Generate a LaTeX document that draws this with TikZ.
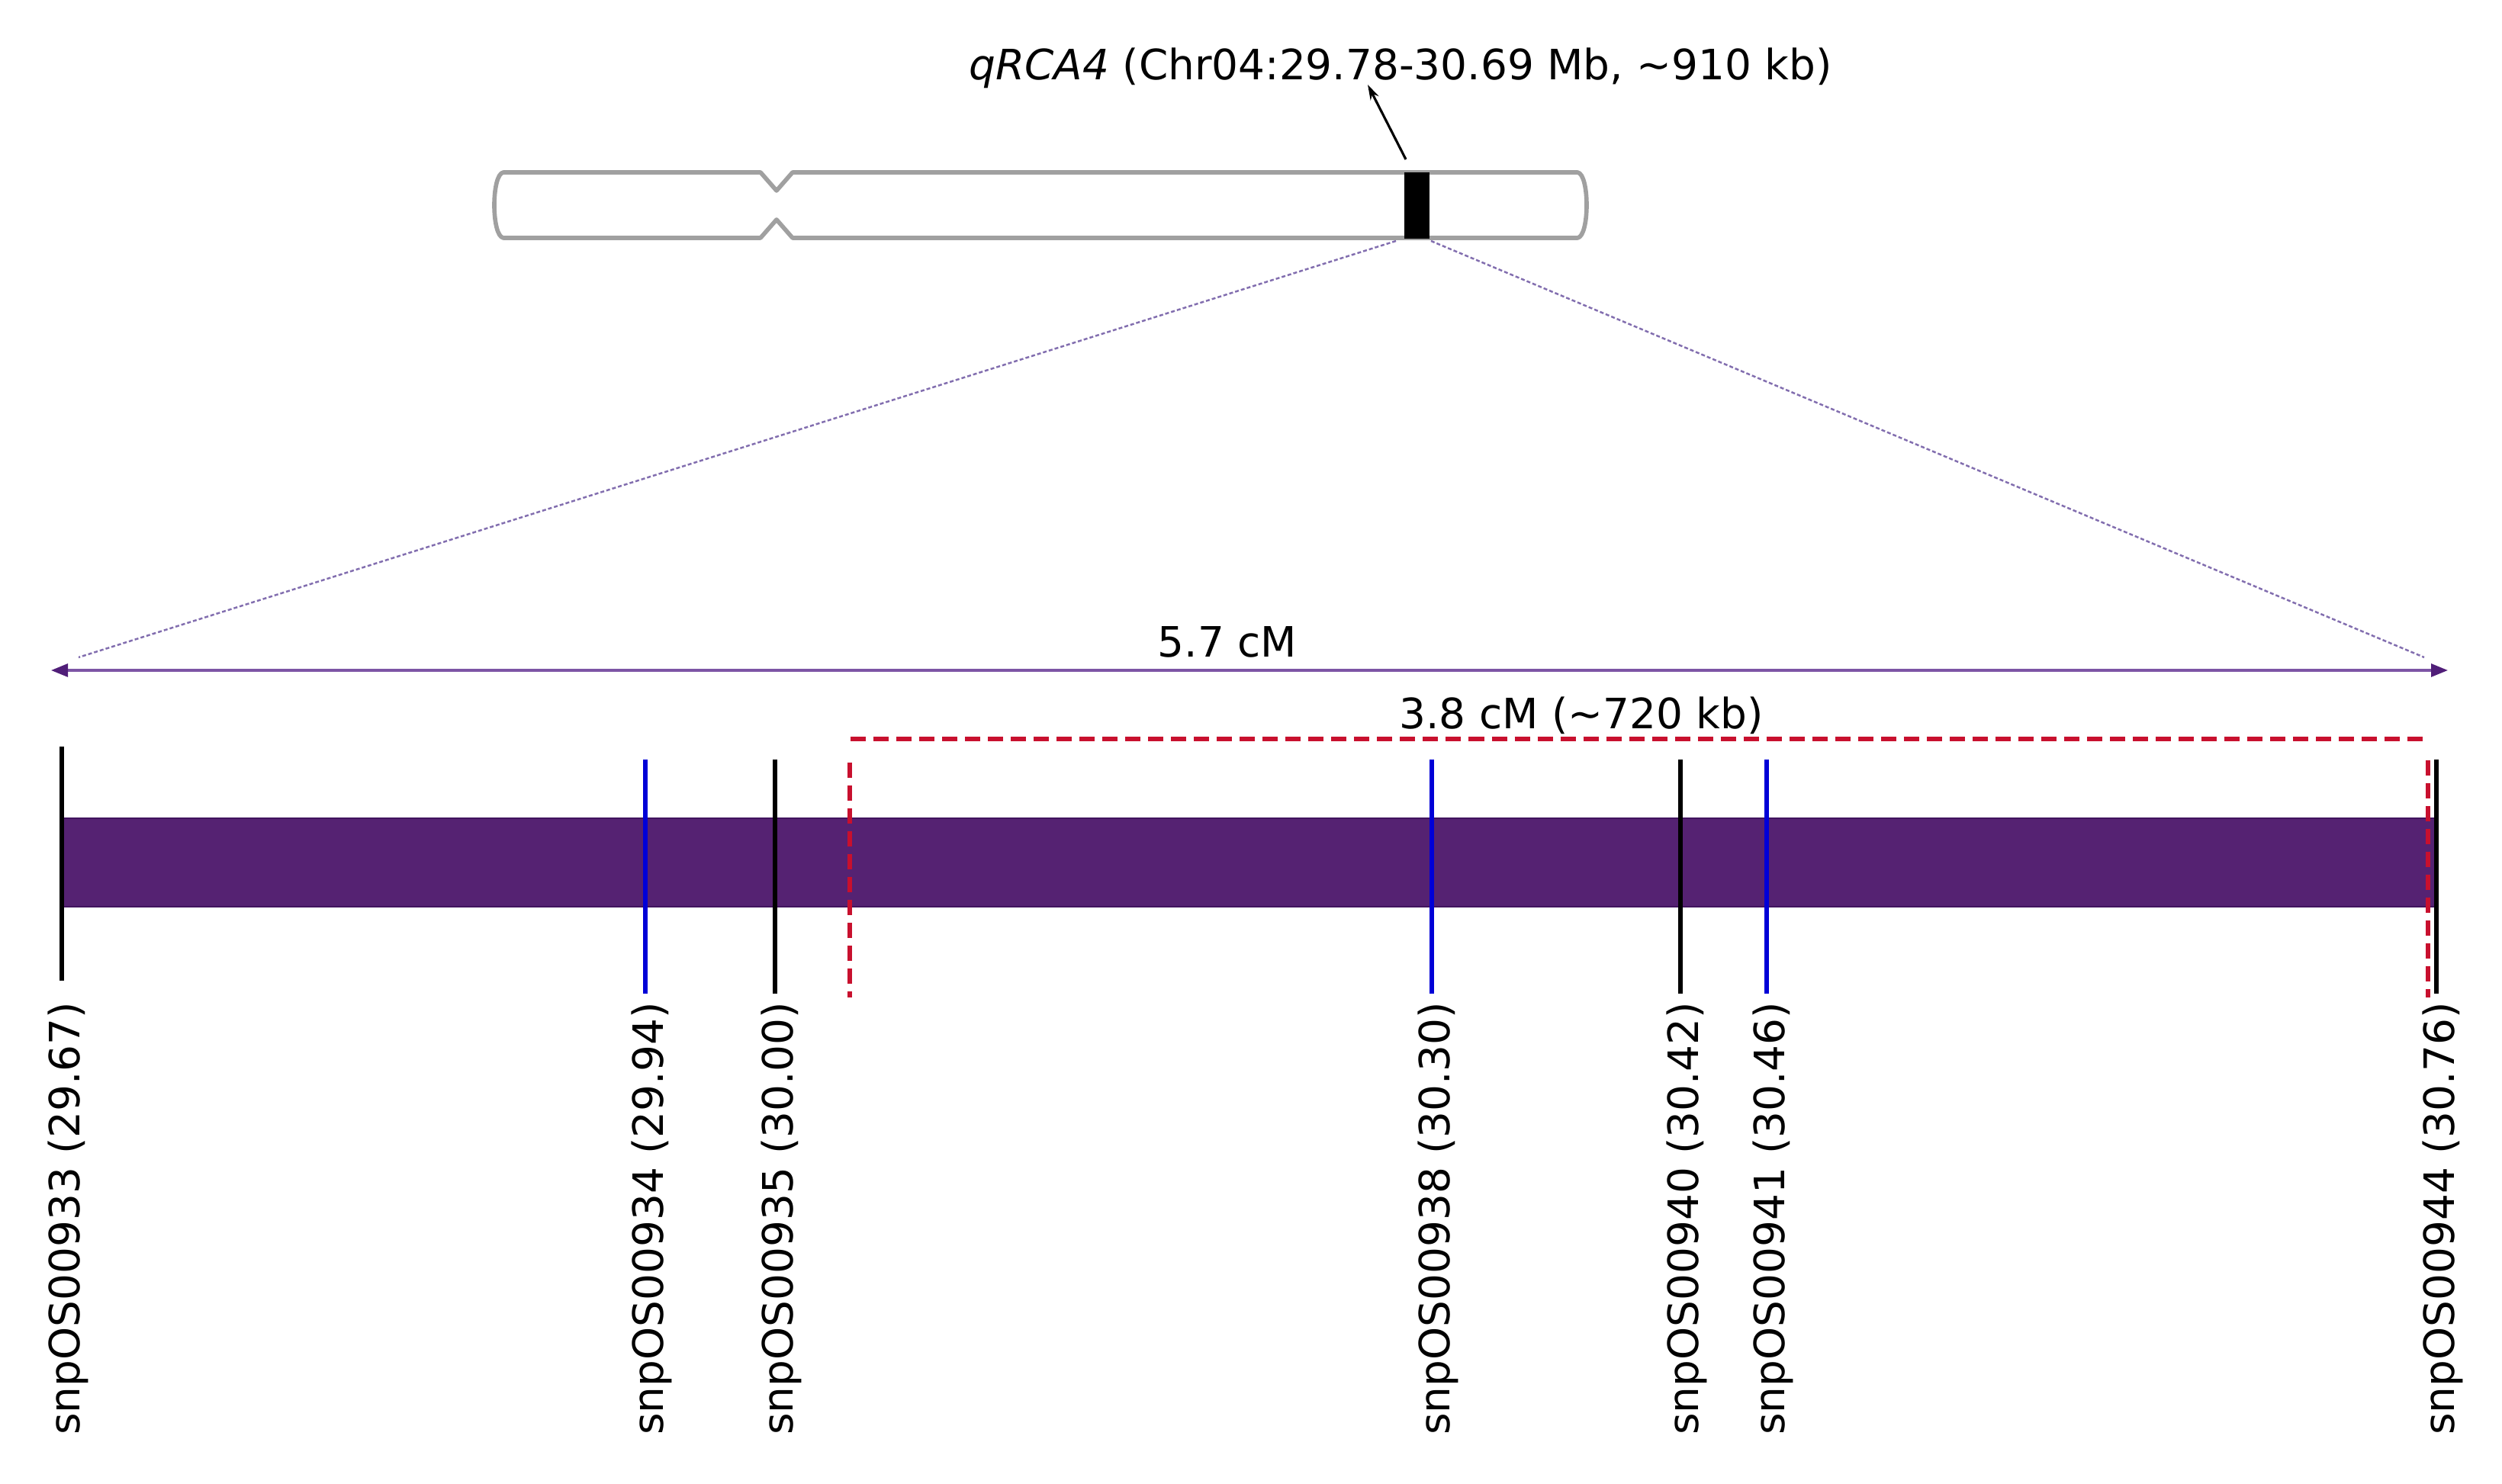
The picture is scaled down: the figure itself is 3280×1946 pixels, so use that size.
\documentclass[tikz,border=0pt]{standalone}
\usepackage{fontspec}
\setmainfont{DejaVu Sans}
\usetikzlibrary{arrows.meta}
\definecolor{chromgray}{RGB}{160,160,160}
\definecolor{barpurple}{RGB}{85,34,114}
\definecolor{baredge}{RGB}{65,20,95}
\definecolor{linepurple}{RGB}{125,85,165}
\definecolor{tippurple}{RGB}{80,30,120}
\definecolor{projpurple}{RGB}{130,110,175}
\definecolor{qtlred}{RGB}{200,16,46}
\definecolor{mblue}{RGB}{0,0,215}
\begin{document}
\begin{tikzpicture}[x=0.01cm,y=-0.01cm,
  every node/.style={font=\fontsize{15.6}{18}\selectfont, inner sep=0pt},
  chrom/.style={draw=chromgray, line width=1.6pt, fill=white, line join=round},
  markblack/.style={draw=black, line width=1.7pt},
  markblue/.style={draw=mblue, line width=1.5pt},
  qtl/.style={draw=qtlred, line width=1.8pt, dash pattern=on 0.2cm off 0.1cm},
  proj/.style={draw=projpurple, line width=0.7pt, dash pattern=on 0.05cm off 0.03cm},
  spanarrow/.style={draw=linepurple, line width=0.9pt,
    {Triangle[length=0.22cm,width=0.17cm,color=tippurple]}-{Triangle[length=0.22cm,width=0.17cm,color=tippurple]}},
  mlabel/.style={rotate=90, anchor=east},
]
\useasboundingbox (0,0) rectangle (3280,1946);

% chromosome
\draw[chrom] (660,226) -- (997,226) -- (1018,250) -- (1039,226) -- (2068,226)
  .. controls (2084,228) and (2084,310) .. (2068,312)
  -- (1039,312) -- (1018,288) -- (997,312) -- (660,312)
  .. controls (644,310) and (644,228) .. (660,226) -- cycle;
\fill[black] (1841,226) rectangle (1874,313);

\coordinate (bandtop) at (1843,209);
\coordinate (bandBL) at (1830,316);
\coordinate (bandBR) at (1876,316);

% title
\node[anchor=base west] (title) at (1270,105) {\textit{qRCA4} (Chr04:29.78-30.69 Mb, \textasciitilde910 kb)};
\coordinate (titlept) at (1793,111);
\draw[line width=0.9pt, -{Stealth[length=0.2cm,width=0.12cm]}] (bandtop) -- (titlept);

% projection lines
\coordinate (projL) at (103,862);
\coordinate (projR) at (3178,862);
\draw[proj] (bandBL) -- (projL);
\draw[proj] (bandBR) -- (projR);

% 5.7 cM span
\coordinate (spanL) at (67,879);
\coordinate (spanR) at (3209,879);
\draw[spanarrow] (spanL) -- (spanR);
\node[anchor=base] (cm57) at (1609,862) {5.7 cM};

% QTL interval
\coordinate (qtlL) at (1115,969);
\coordinate (qtlR) at (3180,969);
\draw[qtl] (qtlL) -- (qtlR);
\node[anchor=base] (cm38) at (2073,956) {3.8 cM (\textasciitilde720 kb)};

% linkage bar
\fill[barpurple, draw=baredge, line width=0.5pt] (80,1073) rectangle (3192,1189);

% QTL verticals
\coordinate (qvLt) at (1114,1000);
\coordinate (qvLb) at (1114,1308);
\coordinate (qvRt) at (3183,997);
\coordinate (qvRb) at (3183,1308);
\draw[qtl] (qvLt) -- (qvLb);
\draw[qtl] (qvRt) -- (qvRb);

% markers
\coordinate (m933t) at (81,979);   \coordinate (m933b) at (81,1286);
\coordinate (m934t) at (846,996);  \coordinate (m934b) at (846,1303);
\coordinate (m935t) at (1016,996); \coordinate (m935b) at (1016,1303);
\coordinate (m938t) at (1877,996); \coordinate (m938b) at (1877,1303);
\coordinate (m940t) at (2203,996); \coordinate (m940b) at (2203,1303);
\coordinate (m941t) at (2316,996); \coordinate (m941b) at (2316,1303);
\coordinate (m944t) at (3194,996); \coordinate (m944b) at (3194,1303);
\draw[markblack] (m933t) -- (m933b);
\draw[markblue]  (m934t) -- (m934b);
\draw[markblack] (m935t) -- (m935b);
\draw[markblue]  (m938t) -- (m938b);
\draw[markblack] (m940t) -- (m940b);
\draw[markblue]  (m941t) -- (m941b);
\draw[markblack] (m944t) -- (m944b);

% marker labels
\node[mlabel] (l933) at (89,1313)   {snpOS00933 (29.67)};
\node[mlabel] (l934) at (854,1313)  {snpOS00934 (29.94)};
\node[mlabel] (l935) at (1024,1313) {snpOS00935 (30.00)};
\node[mlabel] (l938) at (1885,1313) {snpOS00938 (30.30)};
\node[mlabel] (l940) at (2211,1313) {snpOS00940 (30.42)};
\node[mlabel] (l941) at (2324,1313) {snpOS00941 (30.46)};
\node[mlabel] (l944) at (3202,1313) {snpOS00944 (30.76)};
\end{tikzpicture}
\end{document}
